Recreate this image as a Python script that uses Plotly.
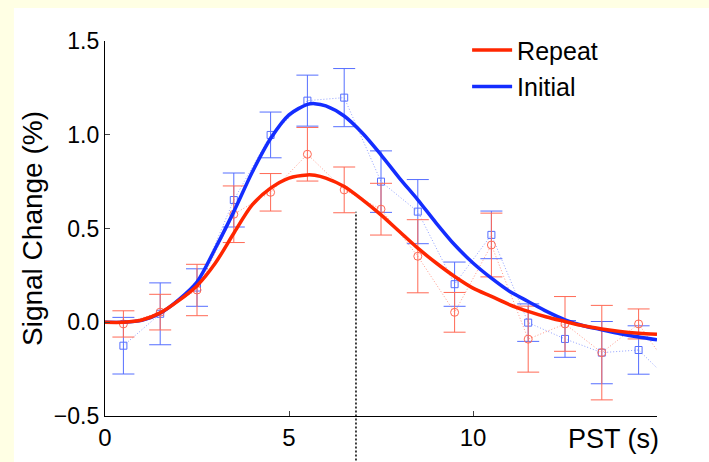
import plotly.graph_objects as go

# ---------------- data ----------------
pst = [0.5, 1.5, 2.5, 3.5, 4.5, 5.5, 6.5, 7.5, 8.5, 9.5, 10.5, 11.5, 12.5, 13.5, 14.5, 15.5]
initial_mean = [-0.125, 0.045, 0.185, 0.652, 0.999, 1.182, 1.198, 0.750, 0.590, 0.203, 0.466, -0.002, -0.089, -0.162, -0.148, -0.34]
initial_err = [0.151, 0.165, 0.100, 0.144, 0.122, 0.136, 0.155, 0.164, 0.171, 0.118, 0.127, 0.100, 0.098, 0.166, 0.129, 0.0]
repeat_mean = [-0.009, 0.054, 0.172, 0.576, 0.693, 0.896, 0.706, 0.603, 0.352, 0.053, 0.412, -0.090, -0.009, -0.162, -0.009, -0.29]
repeat_err = [0.070, 0.095, 0.137, 0.151, 0.100, 0.143, 0.122, 0.138, 0.195, 0.106, 0.170, 0.176, 0.146, 0.252, 0.080, 0.0]

fit_t = [0, 0.5, 1.0, 1.5, 2.0, 2.5, 3.0, 3.5, 4.0, 4.5, 5.0, 5.5, 5.7, 6.0, 6.5, 7.0, 7.5, 8.0, 8.5,
         9.0, 9.5, 10.0, 10.5, 11.0, 11.5, 12.0, 12.5, 13.0, 13.5, 14.0, 14.5, 15.0]
initial_fit = [0, 0.0, 0.01, 0.048, 0.12, 0.215, 0.395, 0.59, 0.80, 0.98, 1.106, 1.162, 1.166, 1.154, 1.10,
               1.008, 0.893, 0.769, 0.653, 0.529, 0.413, 0.316, 0.235, 0.164, 0.111, 0.058, 0.013,
               -0.019, -0.040, -0.061, -0.079, -0.094]
repeat_fit = [0, 0.0, 0.012, 0.05, 0.115, 0.195, 0.316, 0.475, 0.626, 0.715, 0.769, 0.786, 0.784, 0.769, 0.724,
              0.653, 0.573, 0.484, 0.395, 0.316, 0.244, 0.182, 0.138, 0.093, 0.058, 0.028, 0.004,
              -0.019, -0.036, -0.049, -0.058, -0.064]

marker_time = 6.82
marker_top = 0.59

x_ticks = [0, 5, 10]
y_ticks = [-0.5, 0.0, 0.5, 1.0, 1.5]
y_tick_text = ["\u22120.5", "0.0", "0.5", "1.0", "1.5"]
x_range = [0, 15]
y_range = [-0.5, 1.5]

# ---------------- style ----------------
RED = "rgb(255,38,0)"
BLUE = "rgb(20,45,255)"
RED_L = "rgb(255,105,85)"
BLUE_L = "rgb(85,110,255)"
FONT = "Liberation Sans, Arial, Helvetica, sans-serif"
PAGE_BG = "#FFFFE4"

fig = go.Figure()

fig.add_trace(go.Scatter(
    x=pst, y=initial_mean, mode="lines+markers", showlegend=False,
    line=dict(color="rgba(110,130,255,0.75)", width=1, dash="1px,2px"),
    marker=dict(symbol="square-open", size=7, color=BLUE_L, line=dict(width=1, color=BLUE_L)),
    error_y=dict(type="data", array=initial_err, color=BLUE_L, thickness=1, width=11),
))
fig.add_trace(go.Scatter(
    x=pst, y=repeat_mean, mode="lines+markers", showlegend=False,
    line=dict(color="rgba(255,120,100,0.75)", width=1, dash="1px,2px"),
    marker=dict(symbol="circle-open", size=8, color=RED_L, line=dict(width=1, color=RED_L)),
    error_y=dict(type="data", array=repeat_err, color=RED_L, thickness=1, width=11),
))
fig.add_trace(go.Scatter(
    x=fit_t, y=initial_fit, mode="lines", name="Initial", legendrank=2, legendgroup="b",
    line=dict(color=BLUE, width=3.5, shape="spline", smoothing=0.8),
))
fig.add_trace(go.Scatter(
    x=fit_t, y=repeat_fit, mode="lines", name="Repeat", legendrank=1, legendgroup="a",
    line=dict(color=RED, width=3.5, shape="spline", smoothing=0.8),
))

# white panel over the pale-yellow page
fig.add_shape(type="rect", xref="paper", yref="paper", x0=-0.165, x1=1.2, y0=-0.3, y1=1.088,
              fillcolor="white", line=dict(width=0), layer="below")

# vertical dotted marker line, running below the axis
fig.add_shape(type="line", xref="x", yref="paper", x0=marker_time, x1=marker_time,
              y0=-0.3, y1=(marker_top - y_range[0]) / (y_range[1] - y_range[0]),
              line=dict(color="black", width=1.5, dash="2px,2px"))

fig.add_annotation(text="PST (s)", xref="paper", yref="paper", x=1.008, y=-0.016,
                   xanchor="right", yanchor="top", showarrow=False,
                   font=dict(family=FONT, size=27, color="black"))

fig.update_layout(
    width=709, height=462,
    margin=dict(l=105, r=52, t=41, b=46, autoexpand=False),
    paper_bgcolor=PAGE_BG,
    plot_bgcolor="white",
    font=dict(family=FONT, color="black"),
    legend=dict(x=0.656, y=1.037, xanchor="left", yanchor="top", bgcolor="rgba(0,0,0,0)",
                font=dict(family=FONT, size=25), tracegroupgap=1, itemwidth=40),
    xaxis=dict(range=x_range, tickvals=x_ticks, ticks="inside", ticklen=5, tickwidth=1.3,
               showline=True, linecolor="black", linewidth=1.3, showgrid=False, zeroline=False,
               tickfont=dict(size=24), mirror=False, automargin=False),
    yaxis=dict(range=y_range, tickvals=y_ticks, ticktext=y_tick_text, ticks="inside", ticklen=5,
               tickwidth=1.3, showline=True, linecolor="black", linewidth=1.3, showgrid=False,
               zeroline=False, tickfont=dict(size=23), mirror=False, automargin=False,
               title=dict(text="Signal Change (%)", font=dict(size=28), standoff=3)),
)

fig.write_html(
    "out.html",
    config={"displayModeBar": False},
    post_script="document.body.style.margin='0';document.body.style.background='" + PAGE_BG + "';"
                "document.documentElement.style.overflow='hidden';",
)
